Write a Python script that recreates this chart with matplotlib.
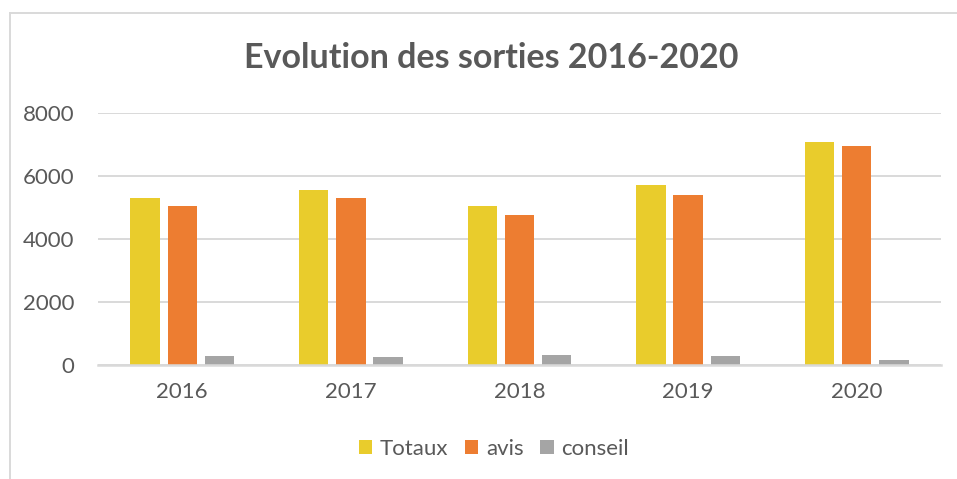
import numpy as np
import matplotlib.pyplot as plt
from matplotlib.lines import Line2D

# Data
years = ['2016', '2017', '2018', '2019', '2020']
totaux = [5310, 5570, 5060, 5700, 7070]
avis = [5040, 5315, 4765, 5410, 6940]
conseil = [280, 255, 315, 295, 150]
series_names = ['Totaux', 'avis', 'conseil']
series_colors = ['#E9CC2C', '#ED7D31', '#A5A5A5']

plt.rcParams['font.family'] = ['Lato', 'DejaVu Sans']
text_col = '#595959'
grid_col = '#D9D9D9'

fig = plt.figure(figsize=(9.57, 4.79), dpi=100)
W, H = 957, 479
ax = fig.add_axes([98 / W, 1 - 365 / H, (941 - 98) / W, (365 - 113) / H])

x = np.arange(len(years))
width = 0.174
step = 0.221
for i, (vals, name, col) in enumerate(zip([totaux, avis, conseil], series_names, series_colors)):
    ax.bar(x + (i - 1) * step, vals, width, color=col, label=name, zorder=3)

ax.set_xlim(-0.5, len(years) - 0.5)
ax.set_ylim(0, 8000)
ax.set_yticks([0, 2000, 4000, 6000, 8000])
ax.set_xticks(x)
ax.set_xticklabels(years)
ax.yaxis.grid(True, color=grid_col, linewidth=1.4, zorder=0)
ax.tick_params(axis='y', length=0, pad=17, labelsize=16, labelcolor=text_col)
ax.tick_params(axis='x', length=0, pad=12, labelsize=16, labelcolor=text_col)
for s in ['top', 'right', 'left']:
    ax.spines[s].set_visible(False)
ax.spines['bottom'].set_color(grid_col)
ax.spines['bottom'].set_linewidth(1.8)
ax.spines['bottom'].set_zorder(4)

fig.text(491 / W, 1 - 58 / H, 'Evolution des sorties 2016-2020', ha='center', va='center',
         fontsize=24.5, fontweight='bold', color=text_col)

leg = fig.legend(loc='center', bbox_to_anchor=(494 / W, 1 - 449 / H), ncol=3, frameon=False,
                 fontsize=16, handlelength=0.6, handleheight=0.6, handletextpad=0.35,
                 columnspacing=0.75, labelcolor=text_col)

# chart frame (left and top edges visible)
fig.add_artist(Line2D([10 / W, 10 / W], [0, 1 - 13 / H], color=grid_col, linewidth=1.4))
fig.add_artist(Line2D([10 / W, 1], [1 - 13 / H, 1 - 13 / H], color=grid_col, linewidth=1.4))

fig.savefig('out.png', dpi=100, facecolor='white')
